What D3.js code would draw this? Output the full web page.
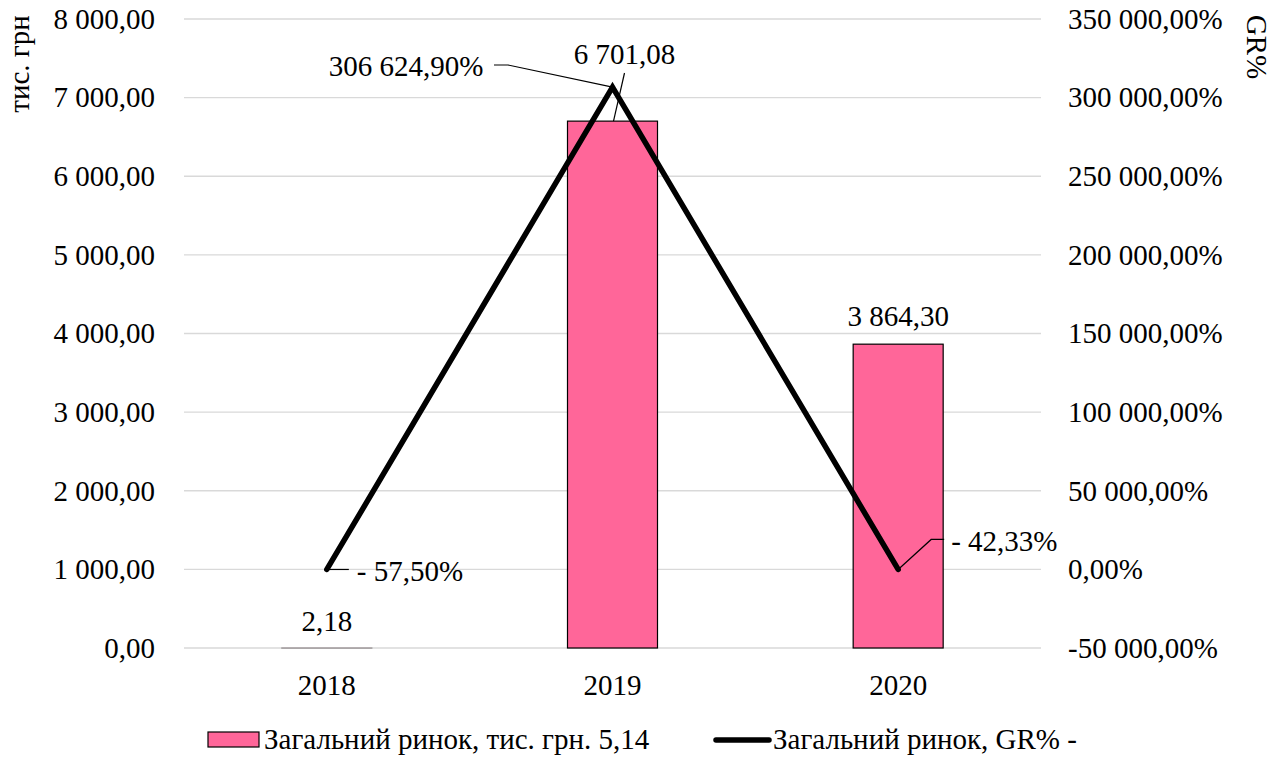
<!DOCTYPE html>
<html>
<head>
<meta charset="utf-8">
<script src="https://cdn.jsdelivr.net/npm/d3@7"></script>
<style>
  html, body { margin: 0; padding: 0; background: #fff; }
  svg { display: block; font-family: "Liberation Serif", "Times New Roman", serif; }
</style>
</head>
<body>
<svg id="chart" width="1285" height="758"></svg>
<script>
// Market volume by year (thousand UAH) and growth rate (%)
const years = ["2018", "2019", "2020"];
const marketValues = [2.18, 6701.08, 3864.30];
const growthRates = [-57.50, 306624.90, -42.33];
const leftTicks = [0, 1000, 2000, 3000, 4000, 5000, 6000, 7000, 8000];
const rightTicks = [-50000, 0, 50000, 100000, 150000, 200000, 250000, 300000, 350000];

const barLegendText = "Загальний ринок, тис. грн. 5,14";
const lineLegendText = "Загальний ринок, GR% -";
const leftTitle = "тис. грн";
const rightTitle = "GR%";

const locale = d3.formatLocale({ decimal: ",", thousands: "\u00a0", grouping: [3], currency: ["", ""], minus: "-" });
const fmt2 = locale.format(",.2f");
const fmtPct = v => (v < 0 ? "- " + fmt2(-v) : fmt2(v)) + "%";
const fmtTickPct = v => fmt2(v) + "%";

const FONT = "Liberation Serif";
const fontSize = 29;
const svg = d3.select("#chart");
const plot = { left: 184, right: 1041, top: 19, bottom: 648 };

const x = d3.scaleBand().domain(years).range([plot.left, plot.right]).paddingInner(0).paddingOuter(0);
const yL = d3.scaleLinear().domain([0, 8000]).range([plot.bottom, plot.top]);
const yR = d3.scaleLinear().domain([-50000, 350000]).range([plot.bottom, plot.top]);
const barW = 90;
const cx = d => x(d) + x.bandwidth() / 2;

const styleText = g => g.selectAll("text")
  .attr("font-size", fontSize).attr("fill", "#000").attr("font-family", FONT);

// Gridlines
svg.append("g").selectAll("line").data(leftTicks).join("line")
  .attr("x1", plot.left).attr("x2", plot.right)
  .attr("y1", d => yL(d)).attr("y2", d => yL(d))
  .attr("stroke", "#d9d9d9").attr("stroke-width", 1.3);

// Left axis labels
svg.append("g").attr("transform", `translate(${plot.left},0)`)
  .call(d3.axisLeft(yL).tickValues(leftTicks).tickFormat(fmt2).tickSize(0).tickPadding(29))
  .call(g => g.select(".domain").remove())
  .call(styleText);

// Right axis labels
svg.append("g").attr("transform", `translate(${plot.right},0)`)
  .call(d3.axisRight(yR).tickValues(rightTicks).tickFormat(fmtTickPct).tickSize(0).tickPadding(27))
  .call(g => g.select(".domain").remove())
  .call(styleText);

// Category axis
svg.append("g").attr("transform", `translate(0,${plot.bottom})`)
  .call(d3.axisBottom(x).tickSize(0))
  .call(g => g.select(".domain").remove())
  .call(styleText)
  .call(g => g.selectAll("text").attr("y", 37).attr("dy", "0.33em"));

// Bars
svg.append("g").selectAll("rect").data(years).join("rect")
  .attr("x", d => cx(d) - barW / 2)
  .attr("y", (d, i) => yL(marketValues[i]))
  .attr("width", barW)
  .attr("height", (d, i) => Math.max(0.5, yL(0) - yL(marketValues[i])))
  .attr("fill", "#ff6699")
  .attr("stroke", (d, i) => marketValues[i] < 50 ? "#a6a6a6" : "#000")
  .attr("stroke-width", 1.2);

// Growth-rate line
const line = d3.line().x((d, i) => cx(years[i])).y(d => yR(d));
svg.append("path").datum(growthRates)
  .attr("d", line)
  .attr("fill", "none").attr("stroke", "#000").attr("stroke-width", 5.5)
  .attr("stroke-linejoin", "miter").attr("stroke-linecap", "round");

const text = (x0, y0, s, anchor) => svg.append("text")
  .attr("x", x0).attr("y", y0).attr("text-anchor", anchor || "middle")
  .attr("dominant-baseline", "central").attr("font-family", FONT)
  .attr("font-size", fontSize).attr("fill", "#000").text(s);

const leader = pts => svg.append("path")
  .attr("d", d3.line()(pts)).attr("fill", "none")
  .attr("stroke", "#000").attr("stroke-width", 1.2);

// Bar value labels
text(cx(years[0]), yL(marketValues[0]) - 27, fmt2(marketValues[0]));
leader([[cx(years[1]) + 12, 73], [cx(years[1]) + 1, yL(marketValues[1])]]);
text(cx(years[1]) + 12, 54, fmt2(marketValues[1]));
text(cx(years[2]), yL(marketValues[2]) - 28, fmt2(marketValues[2]));

// Growth-rate labels
const p0 = [cx(years[0]), yR(growthRates[0])];
leader([p0, [p0[0] + 22, p0[1]]]);
text(p0[0] + 30, p0[1] + 2, fmtPct(growthRates[0]), "start");

const p1 = [cx(years[1]), yR(growthRates[1])];
leader([[494, 65], [508, 65], p1]);
text(406, 66, fmtPct(growthRates[1]));

const p2 = [cx(years[2]), yR(growthRates[2])];
leader([p2, [p2[0] + 33, p2[1] - 30], [p2[0] + 46, p2[1] - 30]]);
text(p2[0] + 53, p2[1] - 28, fmtPct(growthRates[2]), "start");

// Axis titles
svg.append("text").attr("transform", "translate(19,64) rotate(-90)")
  .attr("text-anchor", "middle").attr("dominant-baseline", "central")
  .attr("font-family", FONT).attr("font-size", fontSize).text(leftTitle);
svg.append("text").attr("transform", "translate(1257,47) rotate(90)")
  .attr("text-anchor", "middle").attr("dominant-baseline", "central")
  .attr("font-family", FONT).attr("font-size", fontSize).text(rightTitle);

// Legend
const lg = svg.append("g");
lg.append("rect").attr("x", 208).attr("y", 732).attr("width", 51).attr("height", 15)
  .attr("fill", "#ff6699").attr("stroke", "#000").attr("stroke-width", 1.2);
lg.append("text").attr("x", 264).attr("y", 739).attr("dominant-baseline", "central")
  .attr("font-family", FONT).attr("font-size", fontSize).text(barLegendText);
lg.append("line").attr("x1", 716).attr("x2", 769).attr("y1", 740).attr("y2", 740)
  .attr("stroke", "#000").attr("stroke-width", 5.5).attr("stroke-linecap", "round");
lg.append("text").attr("x", 773).attr("y", 739).attr("dominant-baseline", "central")
  .attr("font-family", FONT).attr("font-size", fontSize).text(lineLegendText);
</script>
</body>
</html>
